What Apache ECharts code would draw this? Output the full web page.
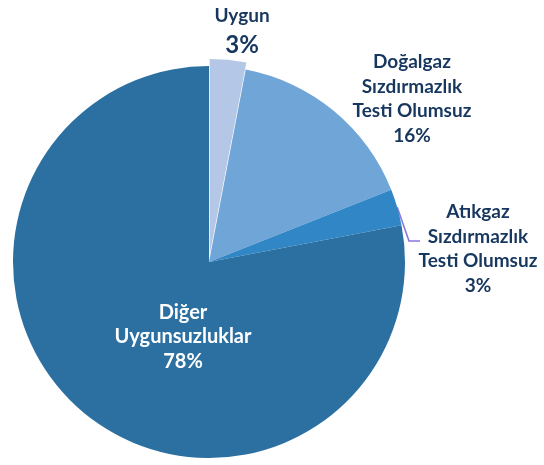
<!DOCTYPE html>
<html>
<head>
<meta charset="utf-8">
<script src="https://cdn.jsdelivr.net/npm/echarts@6/dist/echarts.min.js"></script>
<style>html,body{margin:0;padding:0;background:#fff;}#c{width:544px;height:465px;}</style>
</head>
<body>
<div id="c"></div>
<script>
const categories = ['Uygun', 'Doğalgaz\nSızdırmazlık\nTesti Olumsuz', 'Atıkgaz\nSızdırmazlık\nTesti Olumsuz', 'Diğer\nUygunsuzluklar'];
const values = [3, 16, 3, 78];
const colors = ['#b4c7e7', '#70a5d8', '#3187c6', '#2b70a1'];
const explodedIndex = 0;
const labelPos = [[242, 31], [412, 99], [478, 249], [183, 337]];
const leaderBend = [[409, 241], [420, 241]];

const chart = echarts.init(document.getElementById('c'), null, {renderer: 'canvas'});
const textColor = '#17375e';
const font = 'Lato, "Open Sans", sans-serif';
const clear = 'rgba(0,0,0,0)';

// main pie (all slices except the exploded one)
const mainData = categories.map((name, i) => {
  const item = {name: name, value: values[i], itemStyle: {color: i === explodedIndex ? clear : colors[i]}};
  if (i === explodedIndex) {
    item.label = {show: false};
    item.labelLine = {show: false};
  } else if (i === 2) {
    item.labelLine = {show: true, lineStyle: {color: '#8878e0', width: 1.6, opacity: 1}};
  } else if (i === 3) {
    item.label = {position: 'inside', color: '#ffffff', fontSize: 20};
    item.labelLine = {show: false};
  } else {
    item.labelLine = {show: false};
  }
  return item;
});

// exploded slice drawn by a second pie, shifted outwards along its mid-angle
const explodeData = categories.map((name, i) => {
  if (i !== explodedIndex) {
    return {name: name, value: values[i], itemStyle: {color: clear}, label: {show: false}, labelLine: {show: false}};
  }
  return {
    name: name, value: values[i], itemStyle: {color: colors[i]},
    label: {
      formatter: function (p) { return '{nm|' + p.name + '}\n{big|' + Math.round(p.percent) + '%}'; },
      rich: {
        nm: {fontSize: 19, fontWeight: 'bold', color: textColor, fontFamily: font, lineHeight: 29},
        big: {fontSize: 24, fontWeight: 'bold', color: textColor, fontFamily: font, lineHeight: 30}
      }
    },
    labelLine: {show: false}
  };
});

const cx = 209, cy = 262, r = 196, offset = 7;
let before = 0;
for (let i = 0; i < explodedIndex; i++) before += values[i];
const total = values.reduce((a, b) => a + b, 0);
const midAngle = (before + values[explodedIndex] / 2) / total * 2 * Math.PI;

const baseLabel = {
  show: true,
  position: 'outside',
  formatter: '{b}\n{d}%',
  fontSize: 19,
  fontWeight: 'bold',
  fontFamily: font,
  color: textColor,
  lineHeight: 24.5,
  align: 'center'
};
const layoutFn = function (params) {
  const p = labelPos[params.dataIndex];
  const res = {x: p[0], y: p[1], align: 'center', verticalAlign: 'middle'};
  if (params.seriesIndex === 0 && params.dataIndex === 2 && params.labelLinePoints) {
    res.labelLinePoints = [params.labelLinePoints[0], leaderBend[0], leaderBend[1]];
  }
  return res;
};

chart.setOption({
  animation: false,
  series: [{
    type: 'pie',
    center: [cx, cy],
    radius: r,
    startAngle: 90,
    clockwise: true,
    silent: true,
    avoidLabelOverlap: false,
    label: baseLabel,
    labelLine: {show: false, length: 8, length2: 12},
    labelLayout: layoutFn,
    data: mainData
  }, {
    type: 'pie',
    center: [cx + offset * Math.sin(midAngle), cy - offset * Math.cos(midAngle)],
    radius: r,
    startAngle: 90,
    clockwise: true,
    silent: true,
    avoidLabelOverlap: false,
    label: baseLabel,
    labelLine: {show: false},
    labelLayout: layoutFn,
    data: explodeData
  }]
});
</script>
</body>
</html>
